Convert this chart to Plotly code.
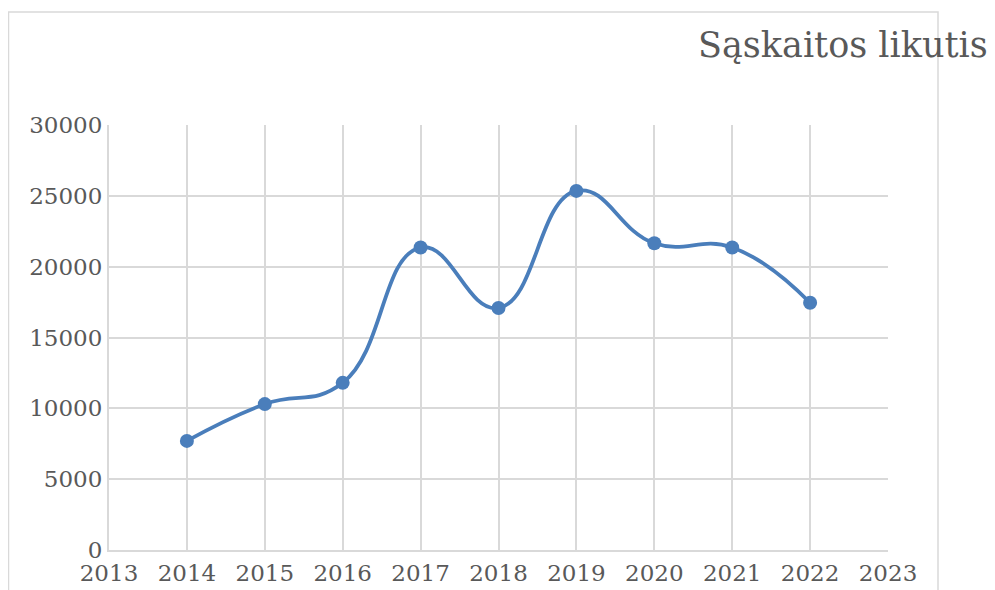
import plotly.graph_objects as go

years = [2014, 2015, 2016, 2017, 2018, 2019, 2020, 2021, 2022]
balance = [7700, 10300, 11800, 21350, 17080, 25350, 21650, 21350, 17450]
x_ticks = list(range(2013, 2024))
y_ticks = [0, 5000, 10000, 15000, 20000, 25000, 30000]
title_text = "Sąskaitos likutis"

# page body has an 8px margin, so work in page coordinates minus 8
OFF = 8
W, H = 995 - OFF, 590 - OFF
L, R, T, B = 109 - OFF, 888 - OFF, 125 - OFF, 550 - OFF
pw, ph = R - L, B - T

def px_x(p):
    return (p - OFF - L) / pw

def px_y(p):
    return (B - (p - OFF)) / ph

font_family = "DejaVu Serif"
text_color = "#595959"
grid_color = "#d9d9d9"
line_color = "#4a7ebb"

fig = go.Figure()
fig.add_trace(go.Scatter(
    x=years, y=balance, mode="lines+markers",
    line=dict(color=line_color, width=3.8, shape="spline", smoothing=1.3),
    marker=dict(color=line_color, size=14),
    showlegend=False, cliponaxis=False,
))

fig.update_layout(
    width=W, height=H,
    margin=dict(l=L, r=W - R, t=T, b=H - B, autoexpand=False),
    paper_bgcolor="white", plot_bgcolor="white",
    font=dict(family=font_family, color=text_color, size=23),
    xaxis=dict(range=[2013, 2023], tickmode="array", tickvals=x_ticks,
               ticktext=[str(v) for v in x_ticks], automargin=False,
               showgrid=True, gridcolor=grid_color, gridwidth=1.5,
               showline=True, linecolor=grid_color, linewidth=2,
               zeroline=False, ticks="", tickfont=dict(size=23),
               ticklabelstandoff=1),
    yaxis=dict(range=[0, 30000], tickmode="array", tickvals=y_ticks,
               ticktext=[str(v) for v in y_ticks], automargin=False,
               showgrid=True, gridcolor=grid_color, gridwidth=1.5,
               showline=True, linecolor=grid_color, linewidth=2,
               zeroline=False, ticks="", tickfont=dict(size=23)),
    shapes=[dict(type="rect", xref="paper", yref="paper",
                 x0=px_x(8.5), x1=px_x(938), y0=px_y(610), y1=px_y(12),
                 line=dict(color=grid_color, width=1.5), layer="below")],
    annotations=[dict(text=title_text, xref="paper", yref="paper",
                      x=px_x(990), y=px_y(45), xanchor="right", yanchor="middle",
                      showarrow=False,
                      font=dict(family=font_family, size=35, color=text_color))],
)

fig.write_html("out.html")
